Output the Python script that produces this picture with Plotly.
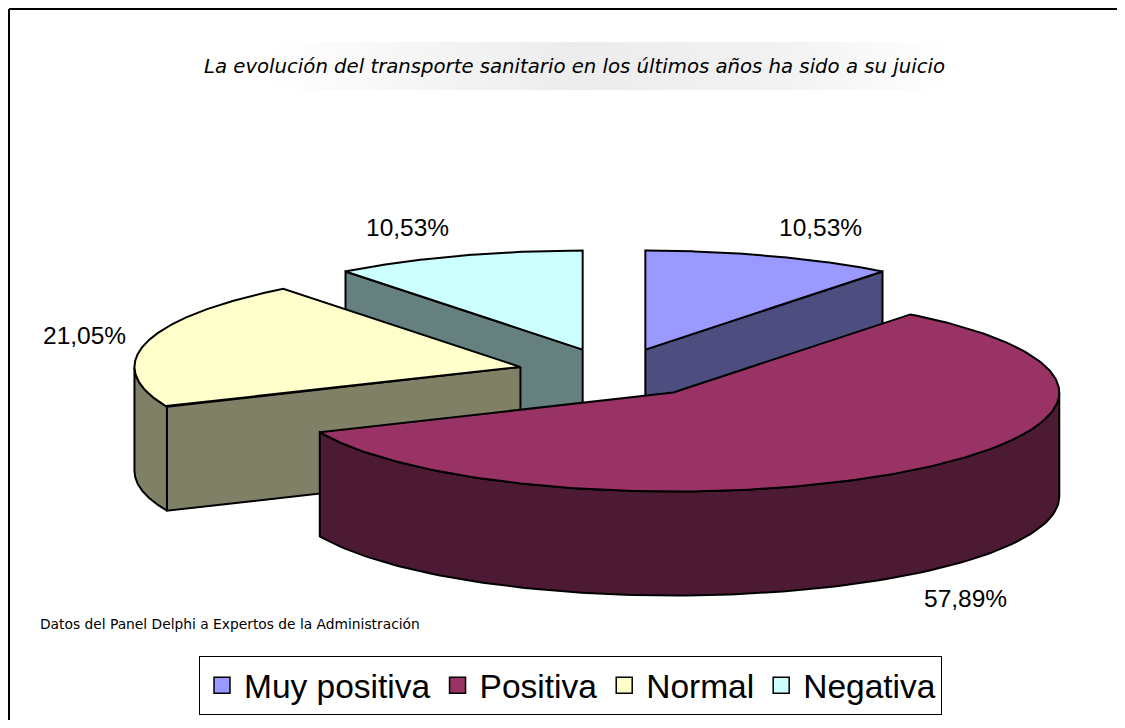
import numpy as np
import plotly.graph_objects as go

# ---- data ----
categories = ["Muy positiva", "Positiva", "Normal", "Negativa"]
values = [10.53, 57.89, 21.05, 10.53]
labels = ["10,53%", "57,89%", "21,05%", "10,53%"]
top_colors = ["#9999FF", "#993366", "#FFFFCC", "#CCFFFF"]
side_colors = ["#4D4D80", "#4D1A33", "#808066", "#668080"]
title_text = "La evolución del transporte sanitario en los últimos años ha sido a su juicio"
source_text = "Datos del Panel Delphi a Expertos de la Administración"

# ---- page / geometry (screen pixel space; the page body has an 8px margin) ----
W, H = 1125, 728
OFF = 8
FW, FH = W - 2 * OFF, H - 2 * OFF
CX, CY = 614, 373
RX, RY = 386, 99
DEPTH = 104
EXPLODE = 0.25
LW = 2

total = sum(values)
starts, ends = [], []
acc = 0.0
for v in values:
    starts.append(acc / total * 360.0)
    acc += v
    ends.append(acc / total * 360.0)


def rim(cx, cy, ang_deg, dz=0.0):
    a = np.radians(ang_deg)
    return cx + RX * np.sin(a), cy - RY * np.cos(a) + dz


fig = go.Figure()

# title background gradient
fig.add_trace(go.Scatter(
    x=[268, 948, 948, 268, 268], y=[42, 42, 90, 90, 42], mode="lines",
    line=dict(width=0), fill="toself",
    fillgradient=dict(type="horizontal",
                      colorscale=[[0, "rgba(255,255,255,1)"], [0.45, "#ececec"],
                                  [0.75, "#f2f2f2"], [1, "rgba(255,255,255,1)"]]),
    hoverinfo="skip", showlegend=False))

centers = []
for i in range(len(values)):
    mid = np.radians((starts[i] + ends[i]) / 2)
    centers.append((CX + EXPLODE * RX * np.sin(mid), CY - EXPLODE * RY * np.cos(mid)))

draw_order = [3, 0, 2, 1]
for i in draw_order:
    cx, cy = centers[i]
    a1, a2 = starts[i], ends[i]
    # outer wall (front half, 90..270 deg)
    lo, hi = max(a1, 90.0), min(a2, 270.0)
    if hi > lo:
        ang = np.linspace(lo, hi, 120)
        tx, ty = rim(cx, cy, ang)
        bx, by = rim(cx, cy, ang[::-1], DEPTH)
        fig.add_trace(go.Scatter(
            x=np.concatenate([tx, bx, tx[:1]]), y=np.concatenate([ty, by, ty[:1]]),
            mode="lines", fill="toself", fillcolor=side_colors[i],
            line=dict(color="black", width=LW), hoverinfo="skip", showlegend=False))
    # radial walls facing the viewer
    for edge, normal in ((a1, a1 - 90.0), (a2, a2 + 90.0)):
        if np.cos(np.radians(normal)) < -1e-6:
            ex, ey = rim(cx, cy, edge)
            fig.add_trace(go.Scatter(
                x=[cx, ex, ex, cx, cx], y=[cy, ey, ey + DEPTH, cy + DEPTH, cy],
                mode="lines", fill="toself", fillcolor=side_colors[i],
                line=dict(color="black", width=LW), hoverinfo="skip", showlegend=False))
    # top face
    ang = np.linspace(a1, a2, 200)
    tx, ty = rim(cx, cy, ang)
    fig.add_trace(go.Scatter(
        x=np.concatenate([[cx], tx, [cx]]), y=np.concatenate([[cy], ty, [cy]]),
        mode="lines", fill="toself", fillcolor=top_colors[i],
        line=dict(color="black", width=LW), name=categories[i],
        hovertemplate=categories[i] + ": " + labels[i] + "<extra></extra>",
        showlegend=False))

# percentage labels
for i in range(len(values)):
    cx, cy = centers[i]
    mid = np.radians((starts[i] + ends[i]) / 2)
    lx = cx + 1.05 * RX * np.sin(mid)
    ly = cy - 1.3 * RY * np.cos(mid) + (DEPTH if np.cos(mid) < 0 else 0)
    fig.add_annotation(x=lx, y=ly, text=labels[i], showarrow=False,
                       xanchor="left" if np.sin(mid) > 0 else "right", yanchor="middle",
                       font=dict(family="Liberation Sans, Arial", size=24.5, color="black"))

# legend entries
for i in range(len(values)):
    fig.add_trace(go.Scatter(
        x=[None], y=[None], mode="markers", name=categories[i],
        marker=dict(symbol="square", size=20, color=top_colors[i],
                    line=dict(color="black", width=1.5))))

fig.add_annotation(x=574, y=66, text="<i>" + title_text + "</i>", showarrow=False,
                   xanchor="center", yanchor="middle",
                   font=dict(family="DejaVu Sans", size=19.7, color="black"))
fig.add_annotation(x=38, y=624, text=source_text, showarrow=False,
                   xanchor="left", yanchor="middle",
                   font=dict(family="DejaVu Sans", size=13.8, color="black"))

# frame lines (top and left)
fig.add_shape(type="line", x0=9, y0=9, x1=W + 5, y1=9, line=dict(color="black", width=2))
fig.add_shape(type="line", x0=9, y0=9, x1=9, y1=H + 5, line=dict(color="black", width=2))

fig.update_layout(
    width=FW, height=FH, margin=dict(l=0, r=0, t=0, b=0),
    paper_bgcolor="white", plot_bgcolor="white",
    xaxis=dict(range=[OFF, OFF + FW], visible=False, fixedrange=True),
    yaxis=dict(range=[OFF + FH, OFF], visible=False, fixedrange=True),
    showlegend=True,
    legend=dict(orientation="h", x=(199 - OFF) / FW, y=1 - (656 - OFF) / FH,
                xanchor="left", yanchor="top",
                bordercolor="black", borderwidth=1, bgcolor="white",
                font=dict(family="Liberation Sans, Arial", size=33.5, color="black"),
                itemsizing="trace", itemwidth=34),
)

fig.write_html("out.html")
